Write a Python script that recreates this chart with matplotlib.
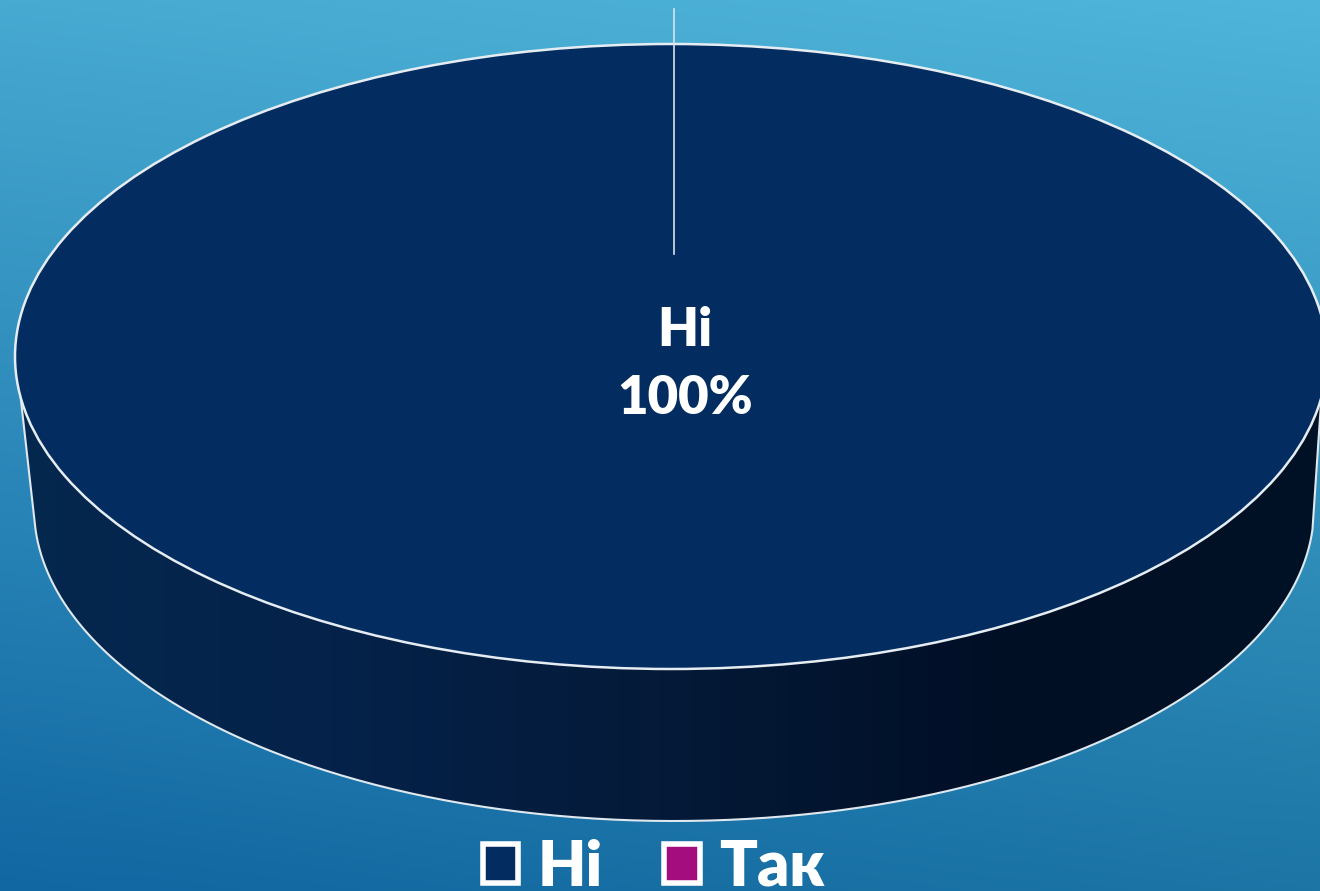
import numpy as np
import matplotlib
matplotlib.use("Agg")
import matplotlib.pyplot as plt
from matplotlib.colors import LinearSegmentedColormap, to_rgb
from matplotlib.patches import Patch, Polygon

categories = ["Hi", "Так"]
shares = [100, 0]
colors = ["#032d60", "#a30d7e"]
value_label = "Hi\n100%"

W, H = 1320, 891
plt.rcParams["font.family"] = ["Lato", "DejaVu Sans"]
fig = plt.figure(figsize=(W / 100, H / 100), dpi=100)

# page background
ax = fig.add_axes([0, 0, 1, 1], zorder=0)
corners = np.array([[to_rgb("#47aad1"), to_rgb("#4fb5da")],
                    [to_rgb("#1167a2"), to_rgb("#1c75a5")]])
v, u = np.mgrid[0:1:256j, 0:1:256j]
bg = ((1 - v) * (1 - u))[..., None] * corners[0, 0] + ((1 - v) * u)[..., None] * corners[0, 1] \
    + (v * (1 - u))[..., None] * corners[1, 0] + (v * u)[..., None] * corners[1, 1]
ax.imshow(bg, extent=(0, W, H, 0), aspect="auto", interpolation="bilinear", zorder=0)

# pie geometry (pixels)
cx, cy, rx, ry = 671, 356.5, 656, 312.5
bx, by, brx, bry = 674, 508, 640, 313

# side wall
t = np.linspace(np.radians(7.5), np.radians(172.5), 300)
tb = np.linspace(np.radians(4), np.radians(176), 300)
top_arc = np.c_[cx + rx * np.cos(t), cy + ry * np.sin(t)]
bot_arc = np.c_[bx + brx * np.cos(tb), by + bry * np.sin(tb)]
wall = np.vstack([top_arc, bot_arc[::-1]])
side_cmap = LinearSegmentedColormap.from_list(
    "side", ["#05284f", "#04224a", "#041a38", "#010f26", "#011225"])
grad = np.linspace(0, 1, 512)[None, :]
im = ax.imshow(grad, extent=(0, W, H, 0), aspect="auto", cmap=side_cmap, zorder=1)
clip = Polygon(wall, closed=True, transform=ax.transData)
im.set_clip_path(clip)
outline = np.vstack([top_arc[-1], bot_arc[::-1], top_arc[0]])
ax.plot(outline[:, 0], outline[:, 1], color="#dfe8ee", lw=1.5, zorder=2)
ax.set_xlim(0, W)
ax.set_ylim(H, 0)
ax.axis("off")

# top face: the pie itself, stretched to an ellipse
ax_pie = fig.add_axes([(cx - rx) / W, 1 - (cy + ry) / H, 2 * rx / W, 2 * ry / H], zorder=1)
wedges, _ = ax_pie.pie(shares, colors=colors, startangle=90, radius=1, counterclock=False,
                       wedgeprops=dict(edgecolor="#e6edf2", linewidth=1.8))
wedges[1].set_visible(False)
ax_pie.set_aspect("auto")
ax_pie.set_xlim(-1, 1)
ax_pie.set_ylim(-1, 1)
ax_pie.patch.set_visible(False)

# overlay: leader line, label, legend
ov = fig.add_axes([0, 0, 1, 1], zorder=2)
ov.set_xlim(0, W)
ov.set_ylim(H, 0)
ov.axis("off")
ov.plot([674, 674], [9, 254], color="#d8e2ea", lw=1.2)
ov.text(685, 364.5, value_label, color="white", fontsize=38, fontweight="heavy",
        ha="center", va="center", linespacing=1.465)
handles = [Patch(facecolor=c, edgecolor="white", linewidth=4, joinstyle="round") for c in colors]
ov.legend(handles, categories, loc="center", bbox_to_anchor=(654 / W, 1 - 867 / H),
          bbox_transform=fig.transFigure, ncol=2, frameon=False,
          labelcolor="white", prop=dict(family="Lato", weight="heavy", size=45),
          handlelength=0.57, handleheight=0.57, handletextpad=0.32, columnspacing=0.97,
          borderpad=0, borderaxespad=0)

fig.savefig("out.png", dpi=100)
